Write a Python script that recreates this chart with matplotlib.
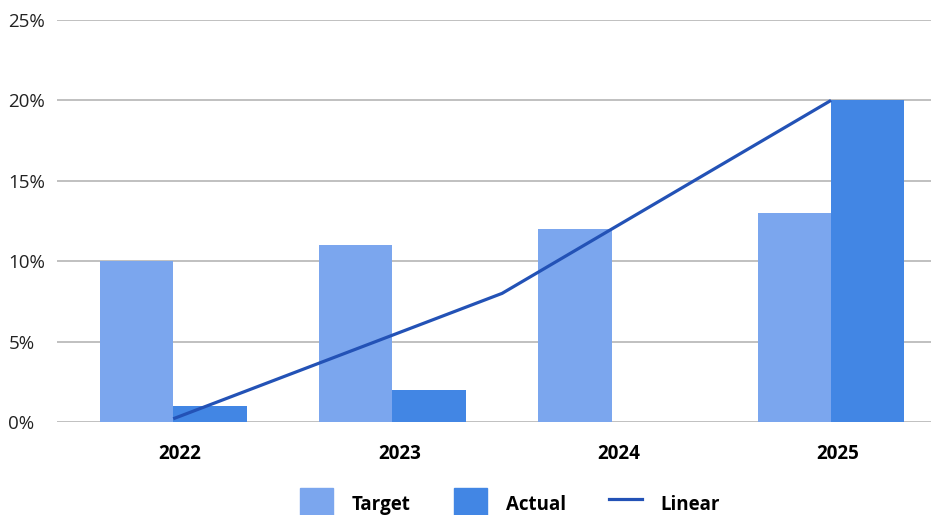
import numpy as np
import matplotlib
matplotlib.use("Agg")
from matplotlib import pyplot as plt
from matplotlib.transforms import ScaledTranslation
from matplotlib.patches import Patch
from matplotlib.lines import Line2D

years = ["2022", "2023", "2024", "2025"]
target = [10, 11, 12, 13]
actual = [1, 2, 0, 20]
# trend line through the series (category positions, percent)
trend_x = [0, 1.5, 3]
trend_y = [0.2, 8, 20]

c_target = "#7ba6ee"
c_actual = "#4286e4"
c_line = "#2352b6"

plt.rcParams["font.family"] = ["Open Sans", "DejaVu Sans"]

fig = plt.figure(figsize=(9.31, 5.15), dpi=100)
ax = fig.add_axes([57 / 931, 1 - 422 / 515, 1 - 57 / 931, (422 - 20) / 515])

x = np.arange(len(years))
w = 0.335
ax.bar(x - w / 2, target, w, color=c_target, zorder=2)
ax.bar(x + w / 2, actual, w, color=c_actual, zorder=2)
ax.plot(trend_x, trend_y, color=c_line, lw=2.3, zorder=3, solid_capstyle="butt")

ax.set_ylim(0, 25)
ax.set_xlim(-0.53, 3.456)
ax.set_yticks(range(0, 26, 5))
ax.set_yticklabels([f"{v}%" for v in range(0, 26, 5)])
ax.yaxis.grid(True, color="#c0c0c0", lw=1.4, zorder=0)
ax.set_axisbelow(True)
for s in ax.spines.values():
    s.set_visible(False)

ax.set_xticks(x)
ax.set_xticklabels(years, fontweight="bold", fontsize=13.5)
ax.tick_params(axis="x", length=0, pad=16)
ax.tick_params(axis="y", length=0, pad=35, labelsize=13.5, labelcolor="#222222")
for lab in ax.get_yticklabels():
    lab.set_horizontalalignment("left")
for lab in ax.get_xticklabels():
    lab.set_transform(lab.get_transform() + ScaledTranslation(0.07, 0, fig.dpi_scale_trans))

handles = [
    Patch(color=c_target, label="Target"),
    Patch(color=c_actual, label="Actual"),
    Line2D([], [], color=c_line, lw=2.3, label="Linear"),
]
fig.legend(handles=handles, loc="center", bbox_to_anchor=(0.548, 0.022), ncol=3,
           frameon=False, prop={"weight": "bold", "size": 13.5},
           handlelength=1.75, handleheight=2.2, handletextpad=1.0, columnspacing=2.3)

fig.savefig("out.png", dpi=100)
